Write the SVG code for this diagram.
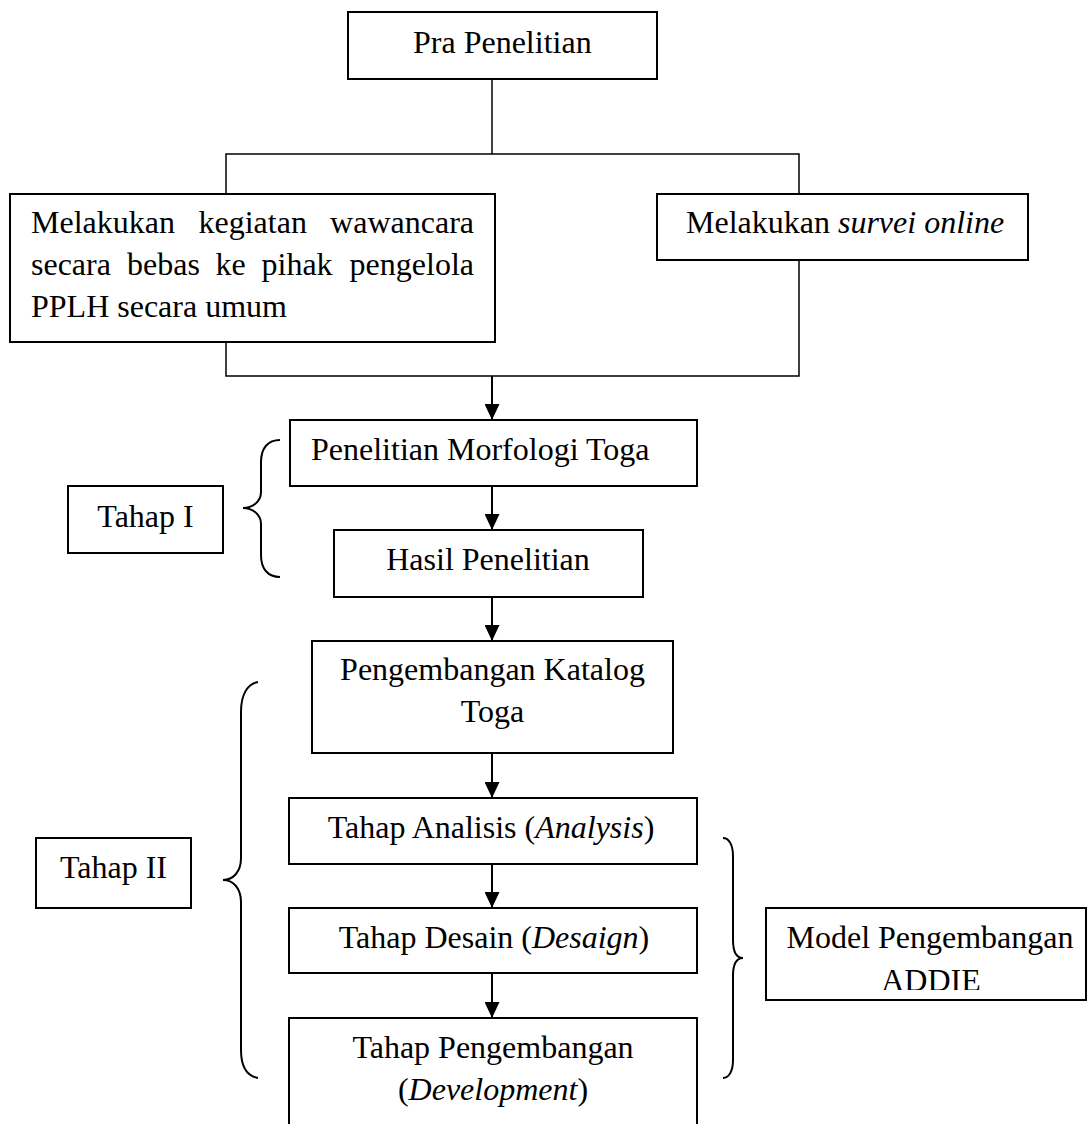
<svg xmlns="http://www.w3.org/2000/svg" width="1087" height="1124" viewBox="0 0 1087 1124">
<style>
  .box { fill: #ffffff; stroke: #000000; stroke-width: 2; }
  .t { font-family: "Liberation Serif", "Times New Roman", serif; font-size: 32px; fill: #000000; }
  .c { text-anchor: middle; }
  .it { font-style: italic; }
  .thin { fill: none; stroke: #000000; stroke-width: 1.5; }
  .arr { fill: none; stroke: #000000; stroke-width: 2; marker-end: url(#ah); }
  .brace { fill: none; stroke: #000000; stroke-width: 2; }
</style>
<defs>
  <marker id="ah" viewBox="0 0 16 15" refX="16" refY="7.5" markerWidth="16" markerHeight="15" orient="auto" markerUnits="userSpaceOnUse">
    <path d="M0,0 L16,7.5 L0,15 z" fill="#000000"/>
  </marker>
  <clipPath id="addieClip">
    <rect x="766" y="908" width="321" height="82"/>
  </clipPath>
</defs>
<rect x="0" y="0" width="1087" height="1124" fill="#ffffff"/>

<g id="connectors">
  <polyline class="thin" points="492,79 492,154"/>
  <polyline class="thin" points="226,194 226,154 799,154 799,194"/>
  <polyline class="thin" points="226,342 226,376 799,376 799,260"/>
  <line class="arr" x1="492" y1="376" x2="492" y2="420"/>
  <line class="arr" x1="492" y1="486" x2="492" y2="530"/>
  <line class="arr" x1="492" y1="597" x2="492" y2="641"/>
  <line class="arr" x1="492" y1="753" x2="492" y2="798"/>
  <line class="arr" x1="492" y1="864" x2="492" y2="908"/>
  <line class="arr" x1="492" y1="973" x2="492" y2="1018"/>
</g>

<g id="braces">
  <path class="brace" d="M280,440 C268,440 261,448 261,462 L261,492 C261,502 252,508 243,508 C252,508 261,514 261,524 L261,555 C261,569 268,577 280,577"/>
  <path class="brace" d="M258,682 C247,684 241,695 241,712 L241,858 C241,872 233,880 223,880 C233,880 241,888 241,902 L241,1050 C241,1066 247,1076 258,1078"/>
  <path class="brace" d="M723,838 C729,838 733,845 733,856 L733,940 C733,952 737,958 743,958 C737,958 733,964 733,976 L733,1060 C733,1071 729,1078 723,1078"/>
</g>

<g id="pra-penelitian">
  <rect class="box" x="348" y="12" width="309" height="67"/>
  <text class="t" x="413" y="53">Pra Penelitian</text>
</g>

<g id="wawancara">
  <rect class="box" x="10" y="194" width="485" height="148"/>
  <text class="t" x="31" y="233">Melakukan</text>
  <text class="t" x="198.5" y="233">kegiatan</text>
  <text class="t" x="474" y="233" text-anchor="end">wawancara</text>
  <text class="t" x="31" y="275">secara</text>
  <text class="t" x="127" y="275">bebas</text>
  <text class="t" x="215.5" y="275">ke</text>
  <text class="t" x="261.5" y="275">pihak</text>
  <text class="t" x="474" y="275" text-anchor="end">pengelola</text>
  <text class="t" x="31" y="317">PPLH secara umum</text>
</g>

<g id="survei">
  <rect class="box" x="657" y="194" width="371" height="66"/>
  <text class="t" x="686" y="233">Melakukan <tspan class="it">survei online</tspan></text>
</g>

<g id="morfologi">
  <rect class="box" x="290" y="420" width="407" height="66"/>
  <text class="t" x="311" y="460">Penelitian Morfologi Toga</text>
</g>

<g id="hasil">
  <rect class="box" x="334" y="530" width="309" height="67"/>
  <text class="t c" x="488" y="570">Hasil Penelitian</text>
</g>

<g id="tahap-1">
  <rect class="box" x="68" y="486" width="155" height="67"/>
  <text class="t c" x="145.5" y="527">Tahap I</text>
</g>

<g id="katalog">
  <rect class="box" x="312" y="641" width="361" height="112"/>
  <text class="t c" x="492.5" y="680">Pengembangan Katalog</text>
  <text class="t c" x="492.5" y="722">Toga</text>
</g>

<g id="analisis">
  <rect class="box" x="289" y="798" width="408" height="66"/>
  <text class="t c" x="491" y="838">Tahap Analisis (<tspan class="it">Analysis</tspan>)</text>
</g>

<g id="desain">
  <rect class="box" x="289" y="908" width="408" height="65"/>
  <text class="t c" x="494" y="948">Tahap Desain (<tspan class="it">Desaign</tspan>)</text>
</g>

<g id="pengembangan">
  <rect class="box" x="289" y="1018" width="408" height="130"/>
  <text class="t c" x="493" y="1058">Tahap Pengembangan</text>
  <text class="t c" x="493" y="1100">(<tspan class="it">Development</tspan>)</text>
</g>

<g id="tahap-2">
  <rect class="box" x="36" y="838" width="155" height="70"/>
  <text class="t c" x="113.5" y="878">Tahap II</text>
</g>

<g id="addie">
  <rect class="box" x="766" y="908" width="320" height="92"/>
  <text class="t c" x="930" y="948">Model Pengembangan</text>
  <text class="t c" x="931" y="991" clip-path="url(#addieClip)">ADDIE</text>
</g>
</svg>
